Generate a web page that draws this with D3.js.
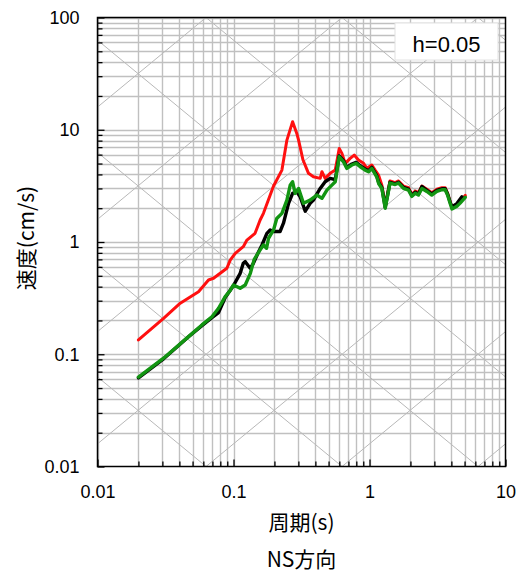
<!DOCTYPE html>
<html><head><meta charset="utf-8">
<script src="https://cdn.jsdelivr.net/npm/d3@7/dist/d3.min.js"></script>
<style>body{margin:0;background:#fff}</style>
</head><body>
<svg id="chart" width="520" height="574"></svg>
<script>
// ---- data ----
const redPeriod = [0.02,0.0306,0.0406,0.0553,0.0655,0.0713,0.0894,0.0946,0.103,0.118,0.1255,0.144,0.1486,0.157,0.166,0.197,0.227,0.247,0.272,0.292,0.301,0.324,0.356,0.387,0.434,0.447,0.472,0.514,0.56,0.599,0.627,0.663,0.721,0.772,0.83,0.904,0.957,1.04,1.10,1.165,1.233,1.305,1.38,1.414,1.545,1.635,1.778,1.935,2.05,2.17,2.29,2.43,2.64,2.87,3.13,3.41,3.6,3.75,3.92,4.04,4.39,4.64,5.06];
const redVel = [0.134,0.209,0.285,0.361,0.459,0.475,0.583,0.69,0.793,0.908,1.04,1.195,1.32,1.57,1.8,3.15,4.37,8.09,11.8,9.28,8.09,5.4,4.09,3.81,3.69,4.23,3.69,4.09,4.37,6.8,6.16,5.02,5.56,5.95,5.37,5.02,4.53,4.85,4.37,3.95,3.2,2.1,3.0,3.5,3.38,3.5,3.15,3.05,2.65,2.85,2.75,3.15,2.95,2.75,2.95,3.05,3.05,2.72,2.28,2.03,2.15,2.3,2.6];

const blackPeriod = [0.02,0.0306,0.0467,0.0586,0.0694,0.0776,0.0869,0.1,0.112,0.118,0.122,0.1327,0.140,0.153,0.162,0.176,0.186,0.197,0.220,0.233,0.254,0.272,0.292,0.309,0.337,0.366,0.387,0.43,0.472,0.514,0.56,0.599,0.644,0.682,0.742,0.798,0.855,0.93,0.984,1.04,1.13,1.17,1.233,1.305,1.38,1.414,1.545,1.635,1.778,1.935,2.05,2.17,2.29,2.43,2.64,2.87,3.13,3.41,3.6,3.75,3.92,4.04,4.39,4.78];
const blackVel = [0.0615,0.091,0.143,0.18,0.212,0.235,0.32,0.41,0.526,0.646,0.668,0.583,0.646,0.82,0.94,1.195,1.28,1.24,1.24,1.47,2.21,2.71,2.8,2.53,1.88,2.21,2.36,2.95,3.44,3.69,3.6,5.85,5.3,4.62,4.95,5.12,4.78,4.46,4.32,4.62,3.9,3.37,3.06,2.04,2.9,3.4,3.3,3.4,3.06,2.96,2.6,2.78,2.67,3.12,2.88,2.68,2.88,2.98,2.98,2.68,2.26,2.05,2.2,2.53];

const greenPeriod = [0.02,0.0306,0.0467,0.0586,0.0694,0.0776,0.0869,0.0946,0.1,0.112,0.122,0.133,0.142,0.157,0.166,0.175,0.181,0.197,0.208,0.227,0.247,0.261,0.272,0.284,0.301,0.327,0.366,0.41,0.447,0.486,0.529,0.56,0.599,0.644,0.682,0.742,0.798,0.855,0.93,0.984,1.04,1.13,1.17,1.233,1.305,1.38,1.414,1.545,1.635,1.778,1.935,2.05,2.17,2.29,2.43,2.64,2.87,3.13,3.41,3.6,3.75,3.92,4.04,4.39,4.64,5.06];
const greenVel = [0.0626,0.0922,0.1436,0.1825,0.216,0.257,0.326,0.37,0.414,0.387,0.414,0.526,0.70,0.85,0.94,0.88,1.08,1.28,1.62,1.8,2.36,3.2,3.44,2.71,3.0,2.21,2.36,2.62,2.45,2.9,3.21,3.44,5.74,5.18,4.53,4.85,5.02,4.68,4.37,4.23,4.53,3.81,3.3,3.0,2.0,2.85,3.35,3.25,3.35,3.0,2.9,2.55,2.72,2.62,3.0,2.82,2.62,2.82,2.92,2.92,2.62,2.2,1.97,2.08,2.22,2.5];

const xTickLabels = ["0.01","0.1","1","10"];
const yTickLabels = ["0.01","0.1","1","10","100"];
const dispLevels = [1e-5,1e-4,1e-3,1e-2,1e-1,1,10,100];      // cm
const accLevels = [1e-2,1e-1,1,10,100,1000,10000];            // cm/s^2
const dampingLabel = "h=0.05";
const xTitle = "周期(s)";
const yTitle = "速度(cm/s)";
const chartTitle = "NS方向";

// ---- layout ----
const L = 97.5, R = 505.5, T = 17.5, B = 466.5;
const svg = d3.select("#chart");
const x = d3.scaleLog().domain([0.01, 10]).range([L, R]);
const y = d3.scaleLog().domain([0.01, 100]).range([B, T]);

svg.append("defs").append("clipPath").attr("id","clip")
  .append("rect").attr("x",L).attr("y",T).attr("width",R-L).attr("height",B-T);

const grid = svg.append("g").attr("clip-path","url(#clip)");
const gridColor = "#c0c0c0";
grid.selectAll("line.vx").data(x.ticks()).join("line")
  .attr("x1", d => Math.round(x(d))+0.5).attr("x2", d => Math.round(x(d))+0.5)
  .attr("y1", T).attr("y2", B).attr("stroke", gridColor).attr("stroke-width", 1.4);
grid.selectAll("line.hy").data(y.ticks()).join("line")
  .attr("y1", d => Math.round(y(d))+0.5).attr("y2", d => Math.round(y(d))+0.5)
  .attr("x1", L).attr("x2", R).attr("stroke", gridColor).attr("stroke-width", 1.4);

// tripartite diagonals
const twoPi = 2*Math.PI;
const diag = svg.append("g").attr("clip-path","url(#clip)");
dispLevels.forEach(sd => {
  diag.append("line")
    .attr("x1", x(0.001)).attr("y1", y(twoPi*sd/0.001))
    .attr("x2", x(100)).attr("y2", y(twoPi*sd/100))
    .attr("stroke","#b8b8b8").attr("stroke-width",1);
});
accLevels.forEach(sa => {
  diag.append("line")
    .attr("x1", x(0.001)).attr("y1", y(sa*0.001/twoPi))
    .attr("x2", x(100)).attr("y2", y(sa*100/twoPi))
    .attr("stroke","#b8b8b8").attr("stroke-width",1);
});

// legend box
svg.append("rect").attr("x",395).attr("y",23).attr("width",103).attr("height",37)
  .attr("fill","#fff").attr("stroke","#e2e2e2").attr("stroke-width",1);
svg.append("text").attr("x",446.5).attr("y",52).attr("text-anchor","middle")
  .attr("font-family","Liberation Sans, Arial, sans-serif").attr("font-size",22)
  .attr("fill","#000").text(dampingLabel);

// curves
const line = d3.line().x(d => x(d[0])).y(d => y(d[1]));
const curves = [
  {p: redPeriod, v: redVel, c: "#ff1010", w: 3},
  {p: blackPeriod, v: blackVel, c: "#000000", w: 3.4},
  {p: greenPeriod, v: greenVel, c: "#129512", w: 3.4}
];
const cg = svg.append("g").attr("clip-path","url(#clip)");
curves.forEach(s => {
  cg.append("path").datum(d3.zip(s.p, s.v)).attr("d", line)
    .attr("fill","none").attr("stroke", s.c).attr("stroke-width", s.w)
    .attr("stroke-linejoin","round").attr("stroke-linecap","round");
});

// axes
const isMajor = d => Math.abs(Math.log10(d) - Math.round(Math.log10(d))) < 1e-9;
const xLabelFor = d => { const i = Math.round(Math.log10(d)) + 2; return isMajor(d) ? xTickLabels[i] : ""; };
const yLabelFor = d => { const i = Math.round(Math.log10(d)) + 2; return isMajor(d) ? yTickLabels[i] : ""; };

const ax = svg.append("g").attr("transform",`translate(0,${B})`)
  .call(d3.axisBottom(x).tickValues(x.ticks()).tickFormat(xLabelFor).tickSizeInner(-5).tickSizeOuter(0).tickPadding(19));
ax.selectAll(".tick line").attr("y2", d => isMajor(d) ? -7 : -5).attr("stroke-width",1.3);
const ay = svg.append("g").attr("transform",`translate(${L},0)`)
  .call(d3.axisLeft(y).tickValues(y.ticks()).tickFormat(yLabelFor).tickSizeInner(-5).tickSizeOuter(0).tickPadding(18));
ay.selectAll(".tick line").attr("x2", d => isMajor(d) ? 7 : 5).attr("stroke-width",1.3);
[ax, ay].forEach(g => {
  g.select(".domain").remove();
  g.selectAll("text").attr("font-family","Liberation Sans, Arial, sans-serif").attr("font-size",18).attr("fill","#000");
});

// frame
svg.append("rect").attr("x",L).attr("y",T).attr("width",R-L).attr("height",B-T)
  .attr("fill","none").attr("stroke","#000").attr("stroke-width",1.5);

// titles
const cjk = "'Noto Sans CJK JP', 'Noto Sans', sans-serif";
svg.append("text").attr("x",(L+R)/2).attr("y",530).attr("text-anchor","middle")
  .attr("font-family",cjk).attr("font-size",21).attr("fill","#000").text(xTitle);
svg.append("text").attr("x",(L+R)/2).attr("y",567).attr("text-anchor","middle")
  .attr("font-family",cjk).attr("font-size",21).attr("fill","#000").text(chartTitle);
svg.append("text").attr("transform","translate(34,238) rotate(-90)").attr("text-anchor","middle")
  .attr("font-family",cjk).attr("font-size",21).attr("fill","#000").text(yTitle);
</script>
</body></html>
